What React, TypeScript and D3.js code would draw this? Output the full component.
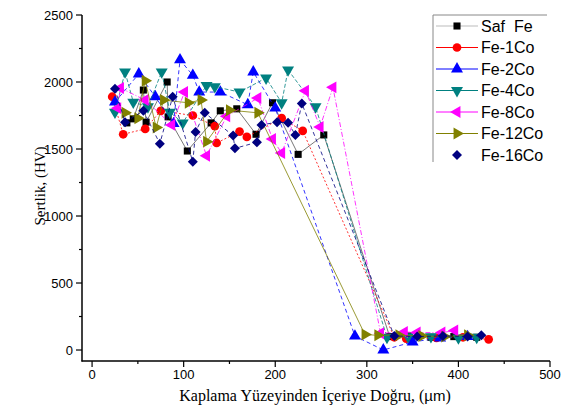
import React, { useEffect, useRef } from 'react';
import * as d3 from 'd3';

// depth (µm) / hardness (HV) pairs
const safFe = [[38,1695],[45,1725],[56,1940],[59,1700],[82,2000],[83,1740],[104,1485],[130,1695],[140,1785],[158,1800],[179,1610],[197,1845],[225,1460],[253,1605],[325,100],[345,105],[370,95],[395,100],[420,95]];
const fe1Co = [[22,1890],[34,1610],[58,1650],[75,1785],[110,1750],[134,1670],[136,1545],[161,1630],[169,1590],[207,1730],[230,1635],[330,95],[343,85],[376,90],[405,95],[433,80]];
const fe2Co = [[25,1850],[51,2060],[69,1890],[89,1690],[96,2165],[110,2050],[117,1925],[140,1925],[170,1830],[176,2075],[200,1805],[287,104],[318,0],[350,60],[380,90],[410,100]];
const fe4Co = [[25,1775],[36,2075],[45,1850],[61,1815],[76,2075],[85,1775],[99,1695],[125,1975],[134,1965],[161,1925],[190,2030],[207,1845],[214,2090],[244,1815],[322,95],[345,100],[370,100],[400,90],[420,95]];
const fe8Co = [[28,1805],[31,1955],[58,1865],[87,1680],[101,1925],[125,1450],[147,1745],[181,1880],[197,1575],[207,1470],[233,1935],[249,1665],[263,1960],[315,125],[341,135],[355,130],[382,130],[396,145]];
const fe12Co = [[36,1770],[50,1730],[58,2010],[70,1660],[78,1865],[105,1845],[119,1865],[125,1555],[150,1790],[181,1770],[298,115],[312,110],[335,110],[360,105],[385,100],[410,110]];
const fe16Co = [[25,1950],[36,1700],[56,1785],[74,1540],[88,1890],[110,1405],[113,1627],[123,1770],[154,1600],[156,1505],[180,1550],[185,1680],[202,1700],[214,1695],[222,1605],[229,1840],[330,105],[355,100],[383,105],[410,100],[425,110]];

const seriesNames = ['Saf  Fe', 'Fe-1Co', 'Fe-2Co', 'Fe-4Co', 'Fe-8Co', 'Fe-12Co', 'Fe-16Co'];
const seriesData = [safFe, fe1Co, fe2Co, fe4Co, fe8Co, fe12Co, fe16Co];
const colors = ['#000000', '#ff0000', '#0000ff', '#008080', '#ff00ff', '#808000', '#000080'];
const lineColors = ['#555555', '#ff0000', '#0000ff', '#008080', '#ff00ff', '#808000', '#000080'];
const dashes = ['none', '2,2', '4,3', '4,2', '5,2,1,2', 'none', '4,3'];
const legendLine = [true, true, true, true, true, true, false];

const xTicks = [0, 100, 200, 300, 400, 500];
const yTicks = [0, 500, 1000, 1500, 2000, 2500];

const symbolFor = (i: number) => {
  // diamond = square turned 45deg (see rotations)
  const types = [d3.symbolSquare, d3.symbolCircle, d3.symbolTriangle, d3.symbolTriangle, d3.symbolTriangle, d3.symbolTriangle, d3.symbolSquare];
  const sizes = [50, 60, 62, 62, 62, 62, 50];
  return d3.symbol().type(types[i]).size(sizes[i])();
};
const rotations = [0, 0, 0, 180, -90, 90, 45];

const App = () => {
  const ref = useRef<SVGSVGElement>(null);

  useEffect(() => {
    const svg = d3.select(ref.current);
    svg.selectAll('*').remove();

    const x = d3.scaleLinear().domain([-11, 500]).range([82, 550]);
    const y = d3.scaleLinear().domain([-82, 2500]).range([361, 15]);

    // axes
    const ax = svg.append('g').attr('stroke', '#000');
    ax.append('line').attr('x1', 82).attr('x2', 82).attr('y1', y(2500)).attr('y2', 361.5).attr('stroke-width', 1.5);
    ax.append('line').attr('x1', 81.5).attr('x2', x(500)).attr('y1', 361).attr('y2', 361).attr('stroke-width', 1.5);

    d3.range(0, 2501, 250).forEach((v) => {
      const major = v % 500 === 0;
      ax.append('line').attr('x1', 82).attr('x2', major ? 76 : 79).attr('y1', y(v)).attr('y2', y(v)).attr('stroke-width', 1.2);
    });
    d3.range(0, 501, 50).forEach((v) => {
      const major = v % 100 === 0;
      ax.append('line').attr('x1', x(v)).attr('x2', x(v)).attr('y1', 361).attr('y2', major ? 367 : 364).attr('stroke-width', 1.2);
    });

    const lab = svg.append('g').attr('font-family', 'Liberation Sans, Arial, sans-serif').attr('font-size', 13).attr('fill', '#000');
    yTicks.forEach((v) => {
      lab.append('text').attr('x', 73).attr('y', y(v) + 4.5).attr('text-anchor', 'end').text(v);
    });
    xTicks.forEach((v) => {
      lab.append('text').attr('x', x(v)).attr('y', 379).attr('text-anchor', 'middle').text(v);
    });

    // axis titles
    svg.append('text')
      .attr('transform', 'translate(45,186) rotate(-90)')
      .attr('text-anchor', 'middle')
      .attr('font-family', 'Liberation Serif, Times New Roman, serif')
      .attr('font-size', 15)
      .text('Sertlik, (HV)');
    const xt = svg.append('text')
      .attr('x', 315).attr('y', 401)
      .attr('text-anchor', 'middle')
      .attr('font-family', 'Liberation Serif, Times New Roman, serif')
      .attr('font-size', 16);
    xt.append('tspan').text('Kaplama Yüzeyinden İçeriye Doğru, (');
    xt.append('tspan').attr('font-family', 'Liberation Sans, Arial, sans-serif').attr('font-size', 15).text('µm');
    xt.append('tspan').text(')');

    // series
    const line = d3.line<number[]>().x((d) => x(d[0])).y((d) => y(d[1]));
    seriesData.forEach((data, i) => {
      const g = svg.append('g');
      g.append('path')
        .datum(data)
        .attr('d', line)
        .attr('fill', 'none')
        .attr('stroke', lineColors[i])
        .attr('stroke-width', 0.8)
        .attr('stroke-dasharray', dashes[i]);
      g.selectAll('path.m')
        .data(data)
        .join('path')
        .attr('class', 'm')
        .attr('d', symbolFor(i))
        .attr('fill', colors[i])
        .attr('transform', (d) => `translate(${x(d[0])},${y(d[1])}) rotate(${rotations[i]})`);
    });

    // legend
    const lg = svg.append('g');
    lg.append('line').attr('x1', 433).attr('x2', 547).attr('y1', 15).attr('y2', 15).attr('stroke', '#888').attr('stroke-width', 1);
    lg.append('line').attr('x1', 433).attr('x2', 433).attr('y1', 15).attr('y2', 162).attr('stroke', '#888').attr('stroke-width', 1);
    seriesNames.forEach((name, i) => {
      const cy = 26 + i * 21.5;
      if (legendLine[i]) {
        lg.append('line').attr('x1', 436).attr('x2', 478).attr('y1', cy).attr('y2', cy)
          .attr('stroke', i === 0 ? '#bbb' : lineColors[i]).attr('stroke-width', 1);
      }
      lg.append('path').attr('d', symbolFor(i)).attr('fill', colors[i])
        .attr('transform', `translate(457,${cy}) rotate(${rotations[i]})`);
      lg.append('text').attr('x', 481).attr('y', cy + 5.5)
        .attr('font-family', 'Liberation Sans, Arial, sans-serif').attr('font-size', 16)
        .style('white-space', 'pre')
        .text(name);
    });
  }, []);

  return (
    <svg
      ref={ref}
      width={570}
      height={409}
      style={{ position: 'absolute', left: 0, top: 0, background: '#fff' }}
    />
  );
};

export default App;
